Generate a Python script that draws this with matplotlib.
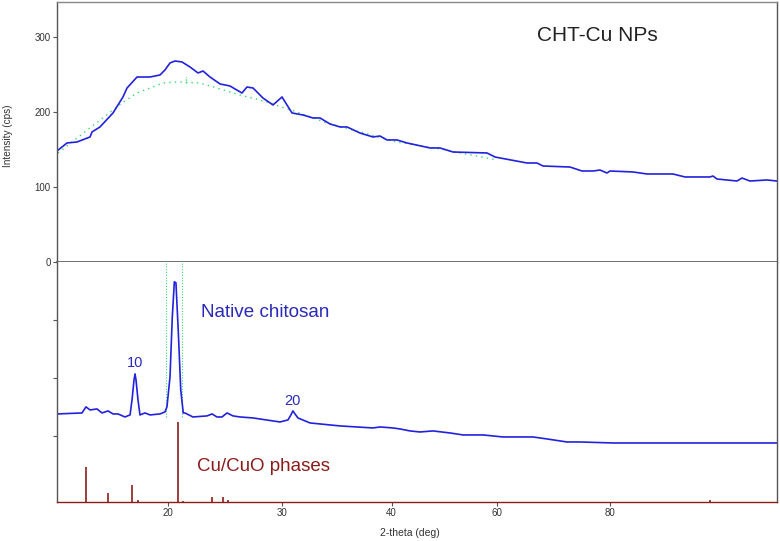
import numpy as np
import matplotlib
matplotlib.use("Agg")
import matplotlib.pyplot as plt

plt.rcParams['font.family'] = ['Liberation Sans', 'DejaVu Sans']

# ---- data -----------------------------------------------------------------
# CHT-Cu NPs pattern (top panel), 2-theta (deg) vs intensity (cps)
np_theta = [10.0, 10.91, 11.81, 12.99, 13.17, 13.89, 15.07, 15.97, 16.34, 17.24,
            18.42, 19.32, 19.77, 20.22, 20.66, 21.27, 21.97, 22.67, 23.11, 23.72,
            24.60, 25.47, 26.52, 26.96, 27.49, 28.36, 29.24, 30.03, 30.48, 30.94,
            31.94, 32.85, 33.49, 34.40, 35.31, 35.95, 37.13, 38.31, 38.95, 39.59,
            41.05, 42.95, 47.33, 49.24, 51.72, 58.19, 59.71, 65.37, 67.14, 68.19,
            72.95, 75.07, 77.00, 78.24, 79.47, 80.0, 84.13, 86.65, 91.31, 93.47,
            97.96, 98.50, 99.22, 102.81, 103.71, 105.14, 108.20, 110.0]
np_int = [148.1, 158.8, 160.1, 166.8, 173.5, 180.2, 198.9, 220.3, 232.3, 247.0,
          247.0, 249.7, 256.4, 265.8, 268.4, 267.1, 260.4, 252.4, 255.0, 247.0,
          237.7, 235.0, 225.6, 233.6, 232.3, 218.9, 209.6, 220.3, 209.6, 198.9,
          196.2, 192.2, 192.2, 184.2, 180.2, 180.2, 172.1, 166.8, 168.1, 162.8,
          162.8, 158.8, 152.1, 152.1, 146.7, 145.4, 140.0, 132.0, 132.0, 128.0,
          126.6, 121.3, 121.3, 122.6, 118.6, 121.3, 120.0, 117.3, 117.3, 113.3,
          113.3, 114.6, 110.6, 107.9, 111.9, 107.9, 109.3, 107.9]

# background (amorphous hump) fit, dotted green
bg_theta = [10.09, 15.88, 17.24, 19.59, 20.83, 22.85, 24.33, 26.35, 28.10,
            31.39, 34.13, 41.05, 49.24, 60.09]
bg_int = [145.4, 212.3, 225.6, 239.0, 240.4, 239.0, 232.3, 222.9, 216.3,
          200.3, 185.5, 160.1, 150.7, 136.0]

# Native chitosan pattern (bottom panel, arbitrary units)
ch_theta = [10.0, 12.26, 12.62, 12.99, 13.62, 14.07, 14.62, 15.07, 15.52, 16.15,
            16.61, 16.79, 16.97, 17.06, 17.15, 17.33, 17.51, 17.96, 18.42, 19.32,
            19.77, 19.95, 20.22, 20.42, 20.60, 20.74, 20.95, 21.16, 21.38, 21.53,
            22.23, 23.46, 23.90, 24.33, 24.77, 25.21, 25.74, 26.35, 27.49, 29.85,
            30.57, 30.84, 31.02, 31.21, 31.48, 32.58, 35.31, 38.31, 38.95, 40.29,
            41.62, 43.52, 45.43, 47.91, 51.14, 53.62, 57.43, 61.15, 62.91, 66.43,
            68.90, 72.42, 74.71, 80.54, 110.0]
ch_int = [1.382, 1.399, 1.503, 1.451, 1.468, 1.399, 1.434, 1.382, 1.382, 1.330,
          1.365, 1.623, 1.967, 2.071, 1.967, 1.623, 1.365, 1.399, 1.365, 1.382,
          1.417, 1.503, 2.019, 3.052, 3.654, 3.637, 2.776, 1.795, 1.399, 1.399,
          1.330, 1.348, 1.382, 1.330, 1.330, 1.399, 1.348, 1.330, 1.313, 1.244,
          1.279, 1.365, 1.434, 1.382, 1.313, 1.227, 1.176, 1.141, 1.158, 1.141,
          1.124, 1.090, 1.072, 1.090, 1.055, 1.021, 1.021, 0.986, 0.986, 0.986,
          0.952, 0.900, 0.900, 0.883, 0.883]

# window of the main chitosan reflection (dotted green markers)
window_theta = [19.86, 21.27]

# Cu/CuO reference phases (stick pattern)
phase_theta = [12.62, 14.59, 16.81, 17.30, 20.88, 21.38, 23.87, 24.90, 25.32, 97.96]
phase_height = [0.602, 0.145, 0.287, 0.03, 1.377, 0.02, 0.076, 0.086, 0.03, 0.03]

x_ticks = [20, 30, 40, 60, 80]
top_yticks = [0, 100, 200, 300]
bottom_yticks = [1, 2, 3]

# non-uniform 2-theta axis of the original instrument plot
scale_theta = [10, 20, 30, 40, 60, 80, 110]
scale_pos = [0, 110.5, 224.7, 334.5, 439.5, 553, 720]


def fwd(x):
    return np.interp(x, scale_theta, scale_pos)


def inv(p):
    return np.interp(p, scale_pos, scale_theta)


# ---- figure ---------------------------------------------------------------
W, H = 780, 541
fig = plt.figure(figsize=(W / 100, H / 100), dpi=100)
left, right = 57 / W, 777 / W
y_top, y_mid, y_bot = 1 - 2 / H, 1 - 261.7 / H, 1 - 501.7 / H
ax1 = fig.add_axes([left, y_mid, right - left, y_top - y_mid])
ax2 = fig.add_axes([left, y_bot, right - left, y_mid - y_bot], sharex=ax1)

blue = '#2222dd'
green = '#3ad870'
dred = '#8b1c1c'
spine_c = '#555555'

for ax in (ax1, ax2):
    ax.set_xscale('function', functions=(fwd, inv))
    for s in ax.spines.values():
        s.set_color(spine_c)
        s.set_linewidth(1.0)
    ax.tick_params(direction='out', length=3, width=0.8, colors=spine_c,
                   labelsize=7, labelcolor='#333333', pad=1.5)

ax1.spines['top'].set_color('#888888')
ax1.spines['bottom'].set_color('#666666')
ax1.spines['bottom'].set_linewidth(1.3)
ax2.spines['top'].set_visible(False)
ax2.spines['bottom'].set_color(dred)

line_kw = dict(color=blue, lw=1.2, solid_joinstyle='round', solid_capstyle='round')

ax1.plot(bg_theta, bg_int, color=green, lw=1.0, ls=(0, (1, 3)))
ax1.plot([21.62, 21.62], [239, 247], color=green, lw=1.0, ls=(0, (1, 1)))
ax1.plot(np_theta, np_int, **line_kw)
ax1.set_xlim(10, 110)
ax1.set_ylim(0, 347.3)
ax1.set_yticks(top_yticks)
ax1.tick_params(axis='x', bottom=False, labelbottom=False)

ax2.set_ylim(-0.127, 4.0)
ax2.set_yticks(bottom_yticks)
ax2.set_yticklabels([])
ax2.set_xticks(x_ticks)
ax2.set_xticklabels([str(t) for t in x_ticks])
for wt in window_theta:
    ax2.plot([wt, wt], [1.33, 4.0], color=green, lw=0.8, ls=(0, (1, 1.5)))
ax2.vlines(phase_theta, -0.127, [-0.127 + h for h in phase_height],
           color=dred, lw=1.2)
ax2.plot(ch_theta, ch_int, **line_kw)

# ---- texts ----------------------------------------------------------------
ax1.text((537 - 57) / 720, (261.7 - 41) / 259.7, 'CHT-Cu NPs', transform=ax1.transAxes,
         fontsize=15, color='#222222', ha='left', va='baseline')
ax2.text((201 - 57) / 720, (501.7 - 316.7) / 240, 'Native chitosan',
         transform=ax2.transAxes, fontsize=13.6, color='#2a2ab8', ha='left', va='baseline')
ax2.text((135.2 - 57) / 720, (501.7 - 366.7) / 240, '10', transform=ax2.transAxes,
         fontsize=10.5, color='#2a2ab8', ha='center', va='baseline')
ax2.text((292.3 - 57) / 720, (501.7 - 405) / 240, '20', transform=ax2.transAxes,
         fontsize=10.5, color='#2a2ab8', ha='center', va='baseline')
ax2.text((196.7 - 57) / 720, (501.7 - 471) / 240, 'Cu/CuO phases',
         transform=ax2.transAxes, fontsize=13.5, color=dred, ha='left', va='baseline')

fig.text(8.5 / W, 1 - 136 / H, 'Intensity (cps)', rotation=90, fontsize=7.2,
         color='#333333', ha='center', va='center')
fig.text(410 / W, 1 - 533 / H, '2-theta (deg)', fontsize=7.5, color='#333333',
         ha='center', va='center')

fig.savefig('out.png', dpi=100)
